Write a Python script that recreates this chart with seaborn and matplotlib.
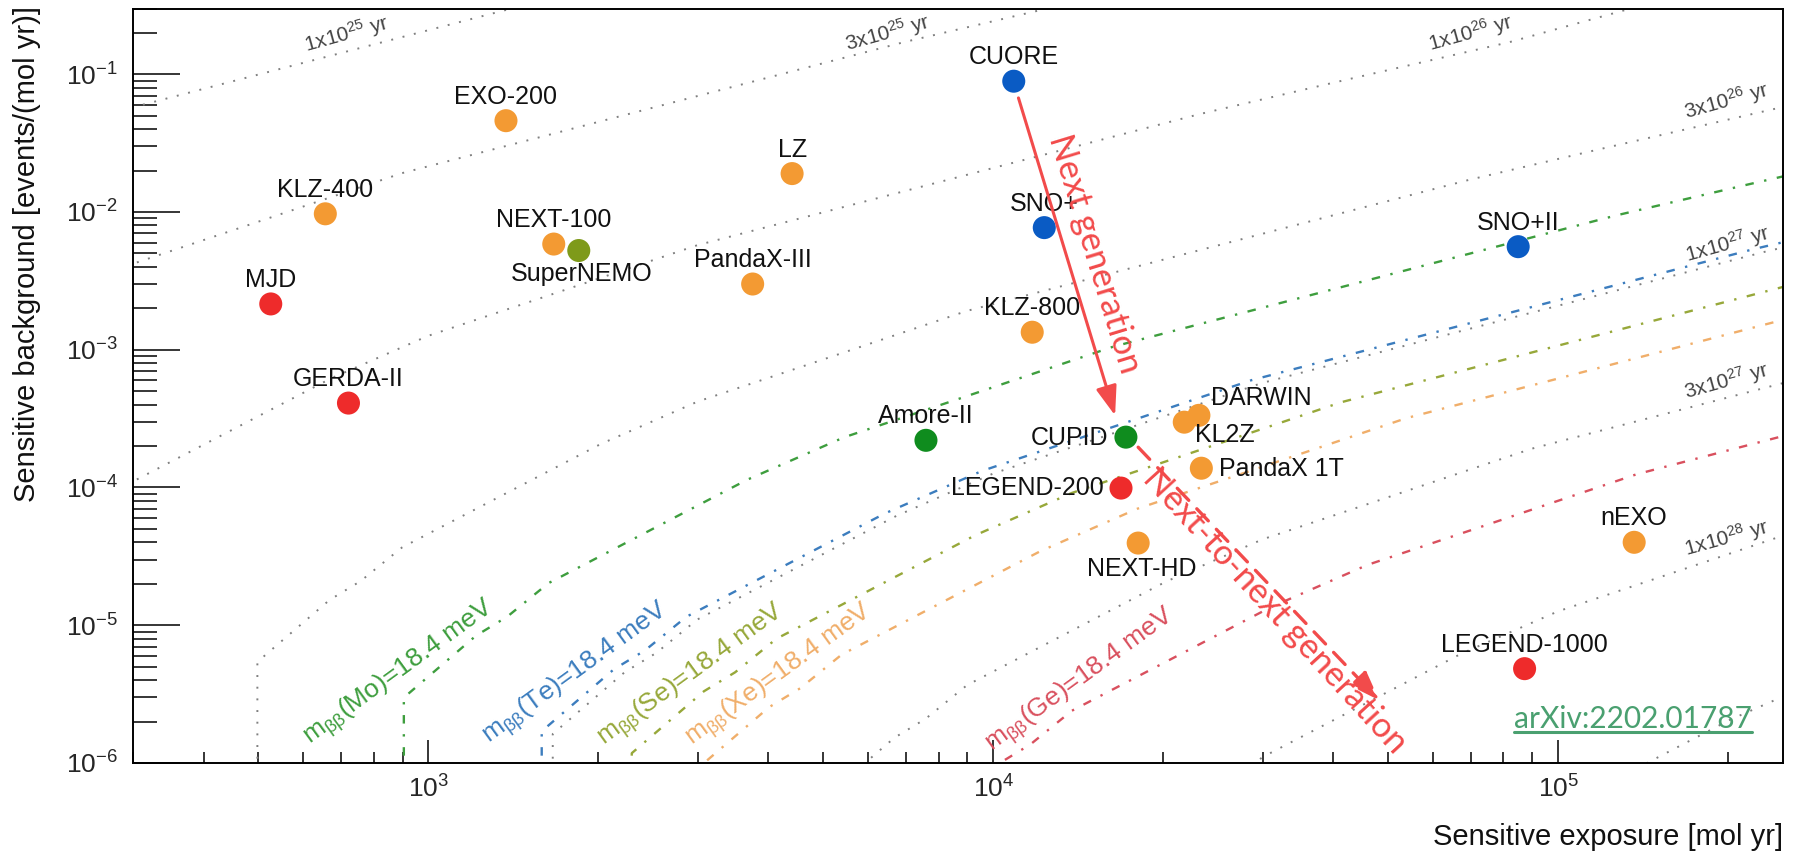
import numpy as np
import pandas as pd
import matplotlib
matplotlib.use("Agg")
import matplotlib.pyplot as plt
import seaborn as sns
from matplotlib.ticker import FixedLocator, LogLocator, NullFormatter, FuncFormatter
from matplotlib.lines import Line2D

# ---------------- data ----------------
experiments = ["MJD", "GERDA-II", "KLZ-400", "EXO-200", "NEXT-100", "SuperNEMO",
               "PandaX-III", "LZ", "CUORE", "SNO+", "KLZ-800", "Amore-II", "CUPID",
               "LEGEND-200", "NEXT-HD", "KL2Z", "DARWIN", "PandaX 1T", "SNO+II",
               "nEXO", "LEGEND-1000"]
exposure = [526, 722, 657, 1372, 1667, 1846, 3750, 4404, 10870, 12310, 11720, 7600,
            17170, 16830, 18050, 21780, 23120, 23350, 84950, 136300, 87200]
background = [2.15e-3, 4.1e-4, 9.7e-3, 4.6e-2, 5.85e-3, 5.25e-3, 3.0e-3, 1.9e-2,
              8.9e-2, 7.7e-3, 1.34e-3, 2.2e-4, 2.32e-4, 9.9e-5, 3.95e-5, 2.98e-4,
              3.34e-4, 1.38e-4, 5.6e-3, 4.0e-5, 4.84e-6]
isotope = ["Ge", "Ge", "Xe", "Xe", "Xe", "Se", "Xe", "Xe", "Te", "Te", "Xe", "Mo", "Mo",
           "Ge", "Xe", "Xe", "Xe", "Xe", "Te", "Xe", "Ge"]

# iso-sensitivity half-lives (grey dotted curves)
halflife_T = [1e25, 3e25, 1e26, 3e26, 1e27, 3e27, 1e28, 3e28]
halflife_text = ["1x10$^{25}$ yr", "3x10$^{25}$ yr", "1x10$^{26}$ yr", "3x10$^{26}$ yr",
                 "1x10$^{27}$ yr", "3x10$^{27}$ yr", "1x10$^{28}$ yr", ""]

# m_bb = 18.4 meV half-lives per isotope (coloured dash-dot curves)
mbb_isotopes = ["Mo", "Te", "Se", "Xe", "Ge"]
mbb_T = [5.45e26, 9.56e26, 1.38e27, 1.80e27, 4.6e27]

# 3-sigma discovery signal counts S vs background counts b
count_b = [1e-5, 2.7e-3, 0.0102, 0.0159, 0.033, 0.418, 1.26, 3.75, 17.2, 1196, 3432, 14000, 40000]
count_S = [0.693, 0.693, 0.93, 1.056, 1.25, 2.81, 4.17, 6.6, 12.5, 97, 166, 342, 559]

# generation arrows (start, end) in data coordinates
arrow_next = [(11080, 0.0673), (16430, 3.33e-4)]
arrow_next2 = [(18050, 1.96e-4), (48220, 2.85e-6)]

x_major = [1e3, 1e4, 1e5]
y_major = [1e-6, 1e-5, 1e-4, 1e-3, 1e-2, 1e-1]

# ---------------- styles / layout ----------------
W, H = 1797, 851
PX = 0.72  # points per pixel at dpi 100

dot_colors = {"Xe": "#F39A33", "Te": "#0A5BC4", "Mo": "#0F8C1E", "Se": "#7E9A1A", "Ge": "#EE2B2B"}
curve_colors = {"Mo": "#3E9E3E", "Te": "#3C7DBE", "Se": "#97A83A", "Xe": "#F0AE6A", "Ge": "#D9505E"}
red = "#F24B4B"

label_offsets = {  # pixel offsets (dx, dy) and alignment of point labels
    "SuperNEMO": (3, -23, "center"), "CUPID": (-18, -1, "right"),
    "LEGEND-200": (-17, 0, "right"), "NEXT-HD": (4, -26, "center"),
    "DARWIN": (12, 17, "left"), "KL2Z": (11, -13, "left"), "PandaX 1T": (18, -1, "left"),
}
halflife_text_pos = [(717.6, 0.196), (6500, 0.1993), (69860, 0.1993), (198200, 0.064),
                     (199000, 5.88e-3), (198200, 5.97e-4), (198200, 4.34e-5), None]
mbb_text_pos = [(887, 4.48e-6), (1827, 4.43e-6), (2925, 4.33e-6), (4186, 4.33e-6), (14270, 3.98e-6)]

sns.set_style("white")
plt.rcParams["font.family"] = ["Liberation Sans", "DejaVu Sans"]
plt.rcParams["mathtext.fontset"] = "custom"
plt.rcParams["mathtext.rm"] = "Liberation Sans"
plt.rcParams["mathtext.it"] = "Liberation Sans:italic"
plt.rcParams["mathtext.bf"] = "Liberation Sans:bold"
plt.rcParams["xtick.bottom"] = True
plt.rcParams["ytick.left"] = True

fig = plt.figure(figsize=(W / 100, H / 100), dpi=100)
ax = fig.add_axes([133 / W, 1 - 763 / H, 1650 / W, 754.5 / H])
ax.set_xscale("log")
ax.set_yscale("log")
ax.set_xlim(300, 2.5e5)
ax.set_ylim(1e-6, 0.3)

LN2_NA = np.log(2) * 6.022e23
b_arr = np.array(count_b)
S_arr = np.array(count_S)


def iso_curve(T):
    E = T * S_arr / LN2_NA
    return E, b_arr / E


# grey iso-half-life curves
for T, txt, pos in zip(halflife_T, halflife_text, halflife_text_pos):
    E, B = iso_curve(T)
    ax.plot(E, B, color="#808080", lw=1.4, linestyle=(0, (1, 5)), zorder=2)
    if pos is not None and txt:
        ax.text(pos[0], pos[1], txt, fontsize=15, color="#444444", rotation=15.5,
                rotation_mode="anchor", ha="center", va="center", zorder=3)

# coloured m_bb curves
for iso, T, pos in zip(mbb_isotopes, mbb_T, mbb_text_pos):
    E, B = iso_curve(T)
    ax.plot(E, B, color=curve_colors[iso], lw=1.7, linestyle=(0, (3.6, 4.5, 1.0, 4.5)), zorder=2)
    ax.text(pos[0], pos[1], r"$\mathregular{m_{\beta\beta}}$(%s)=18.4 meV" % iso,
            fontsize=19, color=curve_colors[iso], rotation=36, rotation_mode="anchor",
            ha="center", va="center", zorder=3)

# experiments
df = pd.DataFrame({"experiment": experiments, "exposure": exposure,
                   "background": background, "isotope": isotope})
sns.scatterplot(data=df, x="exposure", y="background", hue="isotope", palette=dot_colors,
                s=275, linewidth=0, legend=False, ax=ax, zorder=5)
for name, x, y in zip(experiments, exposure, background):
    dx, dy, ha = label_offsets.get(name, (0, 24, "center"))
    ax.annotate(name, (x, y), xytext=(dx * PX, dy * PX), textcoords="offset points",
                ha=ha, va="center", fontsize=18, color="#111111", zorder=6)

# arrows
ax.annotate("", xy=arrow_next[1], xytext=arrow_next[0],
            arrowprops=dict(arrowstyle="-|>,head_length=0.9,head_width=0.32", color=red,
                            lw=2.2, shrinkA=0, shrinkB=0, mutation_scale=20), zorder=7)
ax.annotate("", xy=arrow_next2[1], xytext=arrow_next2[0],
            arrowprops=dict(arrowstyle="-|>,head_length=0.9,head_width=0.32", color=red,
                            lw=2.4, linestyle=(0, (5, 3.5)), shrinkA=0, shrinkB=0,
                            mutation_scale=20), zorder=7)
ax.text(15130, 4.93e-3, "Next generation", fontsize=25, color=red, family=["Lato", "DejaVu Sans"],
        rotation=-73, rotation_mode="anchor", ha="center", va="center", zorder=7)
ax.text(31550, 1.28e-5, "Next-to-next generation", fontsize=25, color=red,
        family=["Lato", "DejaVu Sans"], rotation=-47.5, rotation_mode="anchor",
        ha="center", va="center", zorder=7)

# axes styling
ax.xaxis.set_major_locator(FixedLocator(x_major))
ax.yaxis.set_major_locator(FixedLocator(y_major))
ax.xaxis.set_minor_locator(LogLocator(base=10, subs=np.arange(2, 10), numticks=20))
ax.yaxis.set_minor_locator(LogLocator(base=10, subs=np.arange(2, 10), numticks=20))
fmt = FuncFormatter(lambda v, p: r"$10^{%d}$" % int(round(np.log10(v))))
ax.xaxis.set_major_formatter(fmt)
ax.yaxis.set_major_formatter(fmt)
ax.xaxis.set_minor_formatter(NullFormatter())
ax.yaxis.set_minor_formatter(NullFormatter())
ax.tick_params(axis="y", which="major", direction="in", length=33.8, width=1.1,
               labelsize=19, pad=10.8, left=True, right=False, color="black")
ax.tick_params(axis="y", which="minor", direction="in", length=17, width=1.1,
               left=True, right=False, color="black")
ax.tick_params(axis="x", which="major", direction="in", length=16.3, width=1.1,
               labelsize=19, pad=9, bottom=True, top=False, color="black")
ax.tick_params(axis="x", which="minor", direction="in", length=8, width=1.1,
               bottom=True, top=False, color="black")
for sp in ax.spines.values():
    sp.set_linewidth(1.4)
    sp.set_color("black")
ax.set_xlabel("")
ax.set_ylabel("")

fig.text(27 / W, 1 - 6 / H, "Sensitive background [events/(mol yr)]", rotation=90,
         ha="center", va="top", fontsize=21, color="#111111")
fig.text(1783 / W, 1 - 845 / H, "Sensitive exposure [mol yr]", ha="right",
         va="baseline", fontsize=21, color="#111111")

arx = fig.text(1514 / W, 1 - 728 / H, "arXiv:2202.01787", ha="left", va="baseline",
               fontsize=21.5, color="#4AA070", family=["Lato", "DejaVu Sans"])
fig.canvas.draw()
bb = arx.get_window_extent()
uy = (H - 732) / H
fig.add_artist(Line2D([bb.x0 / W, bb.x1 / W], [uy, uy], transform=fig.transFigure,
                      color="#4AA070", lw=2.2))

fig.savefig("out.png", dpi=100)
